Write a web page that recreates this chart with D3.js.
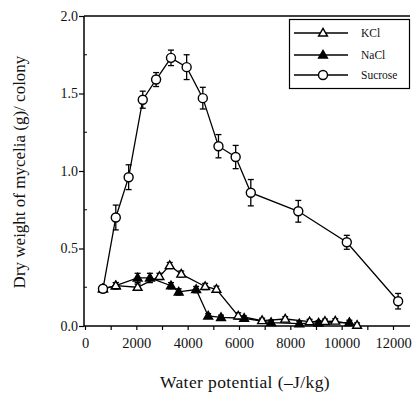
<!DOCTYPE html>
<html><head><meta charset="utf-8">
<script src="https://cdn.jsdelivr.net/npm/d3@7"></script>
<style>body{margin:0;background:#fff}svg{display:block}text{font-family:"Liberation Serif","Times New Roman",serif;fill:#111}</style>
</head><body><div id="c"></div>
<script>
const kclX = [700,1200,2050,2900,3300,3750,4680,5120,5970,6900,7800,8750,9350,9750,10600];
const kclY = [0.24,0.26,0.25,0.32,0.39,0.335,0.255,0.237,0.065,0.035,0.045,0.028,0.03,0.032,0.005];
const kclE = [0.02,0.02,0.02,0.02,0.02,0.02,0.02,0.02,0.02,0.015,0.015,0.015,0.015,0.015,0.015];
const naclX = [700,1200,2050,2530,3350,3650,4330,4800,5300,6200,7250,8350,9100,10300];
const naclY = [0.24,0.26,0.31,0.31,0.26,0.22,0.235,0.065,0.055,0.05,0.022,0.015,0.02,0.022];
const naclE = [0.02,0.02,0.03,0.03,0.02,0.02,0.02,0.015,0.015,0.015,0.015,0.015,0.015,0.015];
const sucX = [700,1200,1700,2250,2770,3350,3960,4590,5200,5870,6460,8310,10200,12200];
const sucY = [0.24,0.70,0.96,1.46,1.59,1.73,1.67,1.47,1.16,1.09,0.86,0.74,0.54,0.16];
const sucE = [0.02,0.08,0.08,0.055,0.045,0.05,0.08,0.07,0.075,0.075,0.085,0.07,0.045,0.05];
const xTicks = [0,2000,4000,6000,8000,10000,12000];
const yTicks = [0,0.5,1.0,1.5,2.0];
const seriesNames = ["KCl","NaCl","Sucrose"];

const W=413,H=395;
const svg=d3.select("#c").append("svg").attr("width",W).attr("height",H);
const x=d3.scaleLinear().domain([0,12000]).range([85,393]);
const y=d3.scaleLinear().domain([0,2]).range([326,16]);
const xEnd=410;

svg.append("line").attr("x1",84).attr("x2",xEnd).attr("y1",y(0)).attr("y2",y(0)).attr("stroke","#000").attr("stroke-width",1.5);
svg.append("line").attr("x1",84).attr("x2",xEnd).attr("y1",y(2)).attr("y2",y(2)).attr("stroke","#000").attr("stroke-width",1.5);
svg.append("line").attr("x1",84).attr("x2",84).attr("y1",y(0)).attr("y2",y(2)).attr("stroke","#000").attr("stroke-width",1.5);

const xAxis=d3.axisBottom(x).tickValues(d3.range(0,12001,1000)).tickSize(4)
  .tickFormat(d=>xTicks.includes(d)?d3.format("d")(d):"");
const gx=svg.append("g").attr("transform",`translate(0,${y(0)})`).call(xAxis);
gx.select(".domain").remove();
gx.selectAll("line").attr("stroke","#000").attr("stroke-width",1.2);
gx.selectAll("text").attr("font-size",14.5).attr("dy","1.05em").style("font-family",'"Liberation Serif",serif');

const yAxis=d3.axisLeft(y).tickValues(yTicks).tickSize(5).tickFormat(d3.format(".1f"));
const gy=svg.append("g").attr("transform","translate(84,0)").call(yAxis);
gy.select(".domain").remove();
gy.selectAll("line").attr("stroke","#000").attr("stroke-width",1.2);
gy.selectAll("text").attr("font-size",14).attr("x",-6).style("font-family",'"Liberation Serif",serif');
svg.append("g").selectAll("line").data([0.25,0.75,1.25,1.75]).join("line")
  .attr("x1",84).attr("x2",87).attr("y1",d=>y(d)).attr("y2",d=>y(d)).attr("stroke","#000");

svg.append("text").attr("x",245).attr("y",388).attr("text-anchor","middle").attr("font-size",17.5).attr("letter-spacing",0.4).text("Water potential (\u2013J/kg)");
svg.append("text").attr("transform","translate(25,172) rotate(-90)").attr("text-anchor","middle").attr("font-size",17).text("Dry weight of mycelia (g)/ colony");

const line=d3.line().x(d=>x(d[0])).y(d=>y(d[1]));
function drawSeries(xs,ys,es,type){
  const pts=xs.map((v,i)=>[v,ys[i],es[i]]);
  const g=svg.append("g");
  g.append("path").datum(pts).attr("d",line).attr("fill","none").attr("stroke","#000").attr("stroke-width",1.3);
  const eb=g.selectAll(".eb").data(pts).join("g");
  eb.append("line").attr("x1",d=>x(d[0])).attr("x2",d=>x(d[0])).attr("y1",d=>y(d[1]-d[2])).attr("y2",d=>y(d[1]+d[2])).attr("stroke","#000").attr("stroke-width",1.3);
  eb.append("line").attr("x1",d=>x(d[0])-3).attr("x2",d=>x(d[0])+3).attr("y1",d=>y(d[1]+d[2])).attr("y2",d=>y(d[1]+d[2])).attr("stroke","#000").attr("stroke-width",1.3);
  eb.append("line").attr("x1",d=>x(d[0])-3).attr("x2",d=>x(d[0])+3).attr("y1",d=>y(d[1]-d[2])).attr("y2",d=>y(d[1]-d[2])).attr("stroke","#000").attr("stroke-width",1.3);
  drawMarkers(g,pts.map(d=>[x(d[0]),y(d[1])]),type);
}
function drawMarkers(g,pts,type){
  if(type==="circle"){
    g.selectAll(".m").data(pts).join("circle").attr("cx",d=>d[0]).attr("cy",d=>d[1]).attr("r",4.5)
      .attr("fill","#fff").attr("stroke","#000").attr("stroke-width",1.4);
  } else {
    const tri=d3.symbol().type(d3.symbolTriangle).size(34);
    g.selectAll(".m").data(pts).join("path").attr("d",tri).attr("transform",d=>`translate(${d[0]},${d[1]+0.5})`)
      .attr("fill",type==="filled"?"#000":"#fff").attr("stroke","#000").attr("stroke-width",1.4);
  }
}
drawSeries(naclX,naclY,naclE,"filled");
drawSeries(kclX,kclY,kclE,"open");
drawSeries(sucX,sucY,sucE,"circle");

const lg=svg.append("g");
lg.append("rect").attr("x",289.5).attr("y",19.5).attr("width",120).attr("height",69).attr("fill","#fff").attr("stroke","#000").attr("stroke-width",1.2);
const types=["open","filled","circle"];
const rowsY=[33,55,75];
seriesNames.forEach((n,i)=>{
  lg.append("line").attr("x1",294).attr("x2",348).attr("y1",rowsY[i]).attr("y2",rowsY[i]).attr("stroke","#000").attr("stroke-width",1.3);
  drawMarkers(lg.append("g"),[[323,rowsY[i]]],types[i]);
  lg.append("text").attr("x",361).attr("y",rowsY[i]+4).attr("font-size",11.5).text(n);
});
</script></body></html>
